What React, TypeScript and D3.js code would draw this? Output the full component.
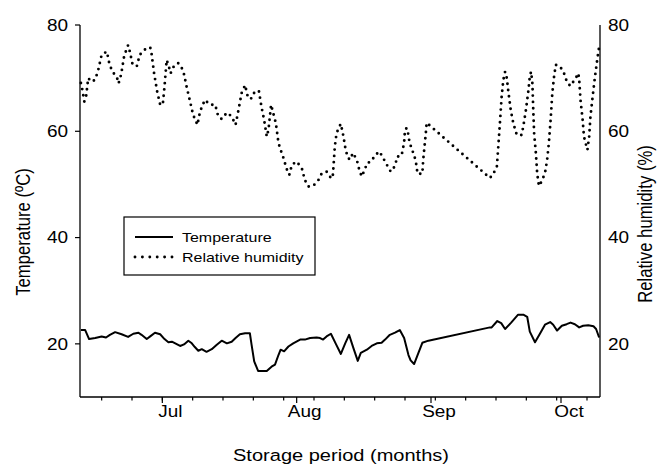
import React from "react";
import * as d3 from "d3";

// Day offsets from 12 Jun (storage start) and readings
const humDays = [0.2,0.5,1.0,1.4,1.9,2.7,3.5,4.2,5.0,6.2,6.8,7.5,8.5,8.9,9.5,10.2,11.1,11.5,12.1,13.1,13.8,15.0,16.2,16.5,17.1,17.8,18.5,19.1,19.5,20.0,20.5,20.9,21.8,22.7,23.8,24.6,25.4,26.1,27.1,27.7,28.8,30.0,31.2,31.9,32.7,33.9,35.0,35.9,36.5,37.3,38.1,38.8,39.6,40.4,41.3,41.9,42.5,43.1,43.5,44.1,44.6,45.2,45.8,46.3,46.9,47.7,48.3,48.9,50.0,51.2,51.9,52.7,53.8,55.0,55.8,56.9,57.9,58.3,58.5,58.8,59.2,59.8,60.2,60.8,61.3,61.9,62.5,62.9,63.5,64.1,64.4,65.0,65.8,66.2,67.2,68.1,69.1,70.0,70.8,71.7,72.3,72.9,73.1,74.2,74.5,74.8,75.0,75.4,75.8,76.0,76.5,77.1,77.5,77.9,79.0,79.2,79.5,79.8,80.0,94.6,95.4,96.2,96.5,96.9,97.3,97.7,98.1,98.5,98.8,99.4,100.0,100.8,101.9,102.3,102.9,103.5,103.8,104.1,104.4,104.6,104.8,105.2,105.5,105.9,106.5,107.3,107.8,108.2,108.6,109.0,109.4,109.8,110.8,111.7,112.2,113.1,114.2,115.0,115.2,115.5,116.0,116.3,116.8,117.1,117.5,117.8,118.3,118.8,119.4,119.8];
const humValues = [69.1,68.0,65.6,66.5,70.0,69.3,69.7,71.5,74.4,75.0,72.6,71.2,70.2,69.0,70.7,74.2,76.2,75.0,72.7,72.2,74.4,75.4,75.8,74.7,70.9,67.5,65.0,65.0,68.4,73.4,72.2,70.9,72.5,72.8,71.5,68.4,65.6,63.1,61.2,63.7,65.9,65.0,65.0,62.8,62.3,63.5,62.8,61.2,63.7,67.2,68.7,66.2,66.2,67.6,67.5,64.5,62.1,59.0,60.3,65.0,63.4,61.5,57.8,56.5,55.1,52.9,51.8,53.7,54.3,53.0,50.8,49.6,49.7,50.8,52.1,52.4,51.2,51.2,53.4,57.1,59.6,60.8,61.4,59.0,56.5,54.9,54.7,55.9,55.2,54.0,52.9,51.5,52.9,54.0,54.3,55.5,56.2,54.9,53.7,52.4,52.9,54.1,55.2,55.4,56.6,57.9,60.3,60.6,59.3,58.1,56.8,55.5,54.3,52.0,52.0,54.6,57.1,59.6,61.6,51.2,52.0,53.4,56.8,61.5,66.5,69.7,71.2,70.0,67.8,64.0,61.5,59.3,59.3,60.9,64.0,67.8,70.3,71.2,69.0,64.0,59.6,55.9,52.1,49.7,50.5,52.1,54.6,57.8,62.1,67.2,70.3,72.5,72.2,70.9,69.7,68.5,69.7,70.9,69.7,65.9,62.1,59.0,57.4,56.5,59.0,62.8,66.5,70.0,73.7,75.9];

const tempDays = [0.2,1.2,2.1,3.5,5.0,6.0,6.9,8.1,9.6,11.1,12.3,13.5,14.2,15.4,16.2,17.3,18.5,19.5,20.4,21.2,23.1,24.0,25.0,25.8,26.5,27.3,28.1,29.2,30.4,31.5,32.7,33.9,35.0,35.9,36.9,38.1,39.2,39.6,40.2,41.1,43.1,44.2,45.0,45.8,46.3,47.1,48.1,49.2,50.8,51.9,53.1,54.6,55.4,56.1,56.9,57.9,59.1,60.2,61.2,62.1,63.1,64.1,64.8,66.2,67.3,68.5,69.6,70.4,71.5,72.7,73.8,74.8,75.8,76.3,77.1,78.1,79.0,80.4,94.6,95.0,96.3,97.2,98.1,99.5,101.1,102.3,103.2,103.8,105.0,106.2,107.3,108.5,109.2,110.1,111.2,112.3,113.2,114.2,115.2,116.1,117.3,118.5,119.1,119.8];
const tempValues = [22.6,22.6,20.9,21.1,21.4,21.2,21.7,22.2,21.8,21.3,21.9,22.1,21.7,20.9,21.4,22.1,21.8,20.9,20.3,20.4,19.6,19.9,20.6,20.1,19.4,18.7,19.0,18.5,19.0,19.8,20.6,20.1,20.4,21.1,21.8,22.0,22.0,19.8,16.7,14.9,14.9,15.7,16.1,17.9,18.9,18.6,19.5,20.1,20.8,20.8,21.1,21.2,21.1,20.8,21.4,21.9,19.9,18.1,20.1,21.7,19.2,16.8,18.3,18.9,19.6,20.1,20.2,20.8,21.7,22.1,22.6,21.1,17.9,16.9,16.2,18.3,20.2,20.6,23.1,23.1,24.3,23.9,22.8,24.0,25.5,25.5,25.1,22.3,20.3,22.0,23.6,24.1,23.6,22.5,23.4,23.7,24.0,23.7,23.1,23.4,23.5,23.3,22.8,21.2];

const monthLabels = ["Jul", "Aug", "Sep", "Oct"];
const yTicks = [20, 40, 60, 80];

const DAY = 86400000;
const start = new Date(Date.UTC(2013, 5, 12));
const end = new Date(Date.UTC(2013, 9, 10));
const toDate = (d: number) => new Date(start.getTime() + d * DAY);

const FONT = "'Liberation Sans', Arial, sans-serif";
const SX = 1.2; // horizontal stretch of the original figure

function T(props: { x: number; y: number; size: number; anchor?: string; rot?: boolean; dy?: string; children: React.ReactNode }) {
  const { x, y, size, anchor = "start", rot = false, dy, children } = props;
  return (
    <text
      transform={`translate(${x},${y}) scale(${SX},1)${rot ? " rotate(-90)" : ""}`}
      fontSize={size}
      textAnchor={anchor as any}
      dy={dy}
      fill="#000"
    >
      {children}
    </text>
  );
}

export default function App() {
  const W = 667, H = 466;
  const left = 80, right = 600, top = 25, bottom = 397;
  const x = d3.scaleUtc().domain([start, end]).range([left, right]);
  const yL = d3.scaleLinear().domain([10, 80]).range([bottom, top]);
  const yR = d3.scaleLinear().domain([10, 80]).range([bottom, top]);

  const tempData = tempDays.map((d, i) => ({ date: toDate(d), v: tempValues[i] }));
  const humData = humDays.map((d, i) => ({ date: toDate(d), v: humValues[i] }));

  const tempLine = d3.line<{ date: Date; v: number }>().x(d => x(d.date)).y(d => yL(d.v));
  const humLine = d3.line<{ date: Date; v: number }>().x(d => x(d.date)).y(d => yR(d.v));

  const monthTicks = d3.utcMonth.range(new Date(Date.UTC(2013, 6, 1)), end);
  const weekTicks = d3.utcDay.range(new Date(Date.UTC(2013, 5, 17)), end, 7);

  return (
    <svg width={W} height={H} style={{ position: "absolute", left: 0, top: 0, background: "#fff" }} fontFamily={FONT}>
      <rect x={0} y={0} width={W} height={H} fill="#fff" />
      {/* data */}
      <path d={tempLine(tempData) || ""} fill="none" stroke="#000" strokeWidth={2} strokeLinejoin="round" />
      <path d={humLine(humData) || ""} fill="none" stroke="#000" strokeWidth={2.9} strokeLinecap="round" strokeDasharray="0 6.3" />

      {/* left axis */}
      <line x1={left} x2={left} y1={top} y2={bottom} stroke="#000" strokeWidth={1.3} />
      {yTicks.map(t => (
        <g key={"l" + t}>
          <line x1={left - 5} x2={left} y1={yL(t)} y2={yL(t)} stroke="#000" strokeWidth={1.2} />
          <T x={left - 12} y={yL(t)} dy="0.36em" anchor="end" size={15.8}>{t}</T>
        </g>
      ))}
      {/* right axis */}
      <line x1={right} x2={right} y1={top} y2={bottom} stroke="#000" strokeWidth={1.3} />
      {yTicks.map(t => (
        <T key={"r" + t} x={right + 8} y={yR(t)} dy="0.36em" size={15.8}>{t}</T>
      ))}
      {/* bottom axis */}
      <line x1={left} x2={right} y1={bottom} y2={bottom} stroke="#000" strokeWidth={1.3} />
      {weekTicks.map((t, i) => (
        <line key={"w" + i} x1={x(t)} x2={x(t)} y1={bottom} y2={bottom + 3.5} stroke="#000" strokeWidth={1.2} />
      ))}
      {monthTicks.map((t, i) => (
        <g key={"m" + i}>
          <line x1={x(t)} x2={x(t)} y1={bottom} y2={bottom + 6} stroke="#000" strokeWidth={1.2} />
          <T x={x(t) + 8} y={bottom + 20} anchor="middle" size={15.8}>{monthLabels[i]}</T>
        </g>
      ))}

      {/* titles */}
      <T x={341} y={461} anchor="middle" size={16.7}>Storage period (months)</T>
      <T x={30} y={232} anchor="middle" size={16.7} rot>Temperature (ºC)</T>
      <T x={652} y={224} anchor="middle" size={16.7} rot>Relative humidity (%)</T>

      {/* legend */}
      <rect x={124} y={217} width={191} height={58} fill="#fff" stroke="#000" strokeWidth={1.2} />
      <line x1={135} x2={173} y1={237} y2={237} stroke="#000" strokeWidth={2} />
      <line x1={135} x2={173} y1={257} y2={257} stroke="#000" strokeWidth={2.9} strokeLinecap="round" strokeDasharray="0 7.4" />
      <T x={182} y={242} size={13.3}>Temperature</T>
      <T x={182} y={262} size={13.3}>Relative humidity</T>
    </svg>
  );
}
